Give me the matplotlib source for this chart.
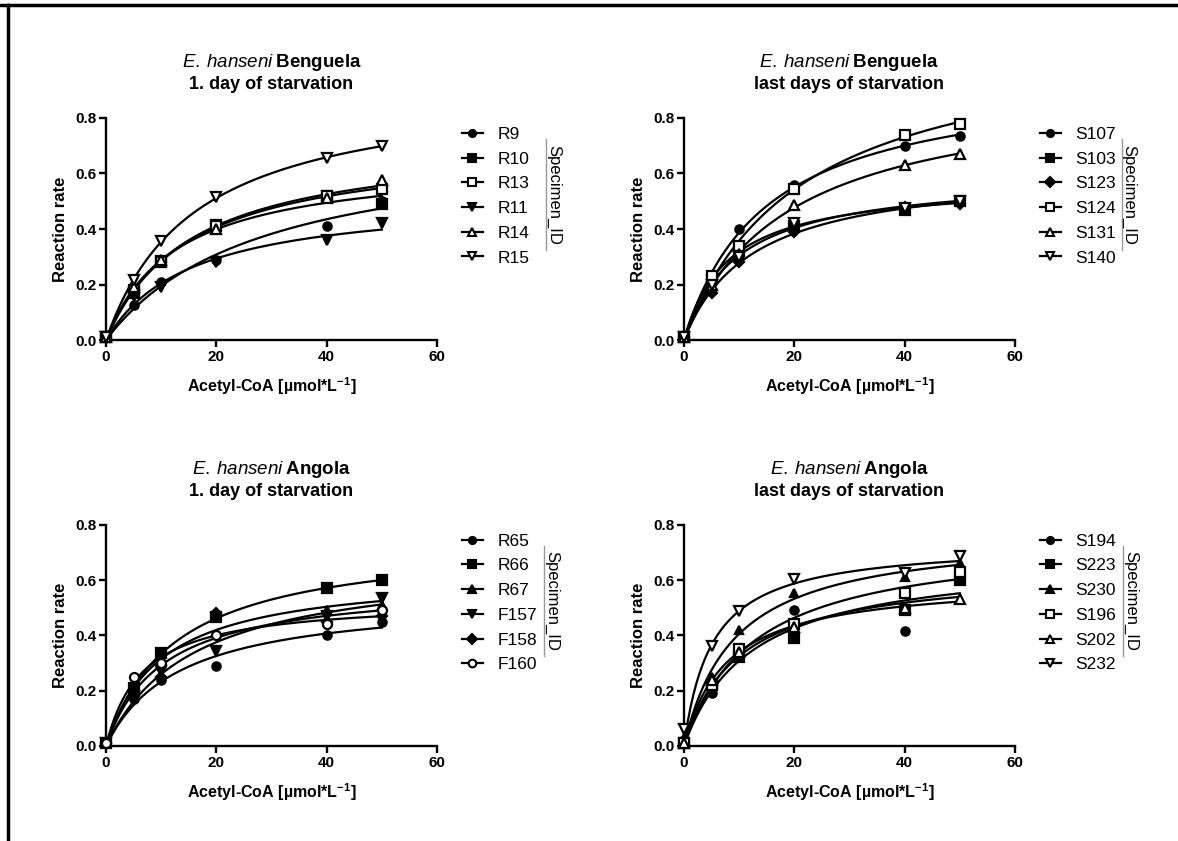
import numpy as np
import matplotlib
matplotlib.use("Agg")
import matplotlib.pyplot as plt
from matplotlib.lines import Line2D

plt.rcParams["font.family"] = ["Liberation Sans", "DejaVu Sans"]
plt.rcParams["mathtext.fontset"] = "custom"
plt.rcParams["mathtext.rm"] = "Liberation Sans"
plt.rcParams["mathtext.it"] = "Liberation Sans:italic"
plt.rcParams["mathtext.bf"] = "Liberation Sans:bold"

# --- data ---
acetyl_coa = [0, 5, 10, 20, 40, 50]

# Benguela, 1. day
ids_b1 = ["R9", "R10", "R13", "R11", "R14", "R15"]
rate_b1 = [
    [0.01, 0.125, 0.21, 0.29, 0.41, 0.50],
    [0.01, 0.17, 0.285, 0.415, 0.52, 0.49],
    [0.01, 0.18, 0.28, 0.41, 0.52, 0.545],
    [0.01, 0.16, 0.19, 0.28, 0.36, 0.42],
    [0.01, 0.19, 0.29, 0.40, 0.51, 0.575],
    [0.01, 0.215, 0.355, 0.515, 0.655, 0.70],
]
# Benguela, last days
ids_b2 = ["S107", "S103", "S123", "S124", "S131", "S140"]
rate_b2 = [
    [0.01, 0.22, 0.40, 0.56, 0.70, 0.735],
    [0.01, 0.22, 0.32, 0.41, 0.47, 0.50],
    [0.01, 0.17, 0.28, 0.39, 0.48, 0.49],
    [0.01, 0.23, 0.34, 0.545, 0.74, 0.78],
    [0.01, 0.20, 0.31, 0.485, 0.63, 0.67],
    [0.01, 0.20, 0.30, 0.42, 0.475, 0.50],
]
# Angola, 1. day
ids_a1 = ["R65", "R66", "R67", "F157", "F158", "F160"]
rate_a1 = [
    [0.01, 0.17, 0.24, 0.29, 0.40, 0.45],
    [0.01, 0.21, 0.335, 0.465, 0.57, 0.60],
    [0.01, 0.19, 0.30, 0.475, 0.49, 0.51],
    [0.01, 0.18, 0.27, 0.345, 0.47, 0.535],
    [0.01, 0.18, 0.25, 0.48, 0.45, 0.47],
    [0.01, 0.25, 0.30, 0.40, 0.44, 0.49],
]
# Angola, last days
ids_a2 = ["S194", "S223", "S230", "S196", "S202", "S232"]
rate_a2 = [
    [0.02, 0.19, 0.33, 0.49, 0.415, 0.60],
    [0.01, 0.22, 0.32, 0.39, 0.49, 0.60],
    [0.03, 0.25, 0.42, 0.553, 0.61, 0.66],
    [0.01, 0.22, 0.35, 0.44, 0.555, 0.63],
    [0.01, 0.24, 0.34, 0.43, 0.50, 0.53],
    [0.06, 0.363, 0.487, 0.603, 0.625, 0.686],
]

# marker style per series: (marker, filled, size)
styles_b1 = [("o", True, 6), ("s", True, 7), ("s", False, 6.5), ("v", True, 7), ("^", False, 7), ("v", False, 7.5)]
styles_b2 = [("o", True, 6), ("s", True, 6.5), ("D", True, 5.5), ("s", False, 6.5), ("^", False, 7), ("v", False, 7.5)]
styles_a1 = [("o", True, 6), ("s", True, 6.5), ("^", True, 6), ("v", True, 7), ("D", True, 5.5), ("o", False, 6.5)]
styles_a2 = [("o", True, 6), ("s", True, 6.5), ("^", True, 6), ("s", False, 6.5), ("^", False, 7), ("v", False, 7.5)]


def fit_mm(x, y):
    # Michaelis-Menten fit: grid over Km, Vmax by least squares
    x = np.asarray(x, float)
    y = np.asarray(y, float)
    best = None
    for km in np.linspace(0.5, 200, 4000):
        f = x / (km + x)
        vmax = np.sum(f * y) / np.sum(f * f)
        sse = np.sum((vmax * f - y) ** 2)
        if best is None or sse < best[0]:
            best = (sse, vmax, km)
    return best[1], best[2]


def draw_panel(ax, ids, rates, styles, place, stage, sid_x, line_x):
    xs = np.linspace(0, 50, 200)
    handles = []
    for name, y, (mk, filled, ms) in zip(ids, rates, styles):
        vmax, km = fit_mm(acetyl_coa, y)
        ax.plot(xs, vmax * xs / (km + xs), color="black", lw=1.6)
        fc = "black" if filled else "white"
        ax.plot(acetyl_coa, y, linestyle="none", marker=mk, ms=ms,
                mfc=fc, mec="black", mew=1.6, clip_on=False, zorder=3)
        handles.append(Line2D([], [], color="black", lw=1.6, marker=mk,
                              ms=ms * 0.85, mfc=fc, mec="black", mew=1.5, label=name))

    ax.set_xlim(0, 60)
    ax.set_ylim(0, 0.8)
    ax.set_xticks([0, 20, 40, 60])
    ax.set_yticks([0, 0.2, 0.4, 0.6, 0.8])
    ax.set_yticklabels(["0.0", "0.2", "0.4", "0.6", "0.8"])
    for s in ["top", "right"]:
        ax.spines[s].set_visible(False)
    for s in ["left", "bottom"]:
        ax.spines[s].set_linewidth(1.7)
    ax.tick_params(direction="out", length=5, width=1.7, labelsize=11, pad=2)
    for lab in ax.get_xticklabels() + ax.get_yticklabels():
        lab.set_fontweight("bold")

    ax.set_xlabel(r"Acetyl-CoA [µmol*L$^{\mathbf{-1}}$]", fontsize=11.5,
                  fontweight="bold", labelpad=8)
    ax.set_ylabel("Reaction rate", fontsize=12, fontweight="bold", labelpad=5)

    ax.text(0.5, 1.25, r"$\mathit{E.\:hanseni}\:\mathbf{" + place + "}$",
            transform=ax.transAxes, ha="center", va="center", fontsize=13.5)
    ax.text(0.5, 1.149, stage, transform=ax.transAxes, ha="center",
            va="center", fontsize=13, fontweight="bold")

    ax.legend(handles=handles, loc="upper left", bbox_to_anchor=(1.075, 0.96),
              frameon=False, fontsize=12.5, handlelength=1.2, handletextpad=0.85,
              labelspacing=0.55, borderaxespad=0, borderpad=0)

    ax.text(sid_x, 0.655, "Specimen_ID", transform=ax.transAxes, rotation=-90,
            ha="center", va="center", fontsize=12)
    ax.plot([line_x, line_x], [0.405, 0.905], transform=ax.transAxes,
            color="#999999", lw=1, clip_on=False)


fig = plt.figure(figsize=(11.78, 8.41), dpi=100)
w, h = 0.281, 0.264
ax1 = fig.add_axes([0.090, 0.5957, w, h])
ax2 = fig.add_axes([0.5806, 0.5957, w, h])
ax3 = fig.add_axes([0.090, 0.1130, w, 0.263])
ax4 = fig.add_axes([0.5806, 0.1130, w, 0.263])

draw_panel(ax1, ids_b1, rate_b1, styles_b1, "Benguela", "1. day of starvation", 1.353, 1.329)
draw_panel(ax2, ids_b2, rate_b2, styles_b2, "Benguela", "last days of starvation", 1.345, 1.323)
draw_panel(ax3, ids_a1, rate_a1, styles_a1, "Angola", "1. day of starvation", 1.347, 1.322)
draw_panel(ax4, ids_a2, rate_a2, styles_a2, "Angola", "last days of starvation", 1.349, 1.326)

# frame lines on top and left
fig.add_artist(Line2D([0, 1], [0.9945, 0.9945], transform=fig.transFigure, color="black", lw=2.5))
fig.add_artist(Line2D([0.0065, 0.0065], [0, 0.9945], transform=fig.transFigure, color="black", lw=2.5))

fig.savefig("out.png", dpi=100)
